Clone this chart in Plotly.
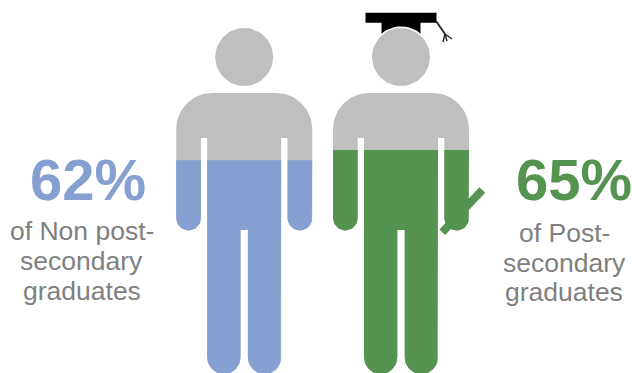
import numpy as np
import plotly.graph_objects as go

# Shares shown by the two pictograms
groups = ["Non post-secondary graduates", "Post-secondary graduates"]
shares = [62, 65]
caption_lines = [
    ["of Non post-", "secondary", "graduates"],
    ["of Post-", "secondary", "graduates"],
]
colors = ["#85A0D1", "#549350"]
text_gray = "#808080"
figure_gray = "#BFBFBF"

WIDTH, HEIGHT = 632, 373
PX_PER_PERCENT = 3.43          # one percent of figure height, head to feet
person_centers = [244.2, 401.0]
share_x = [88, 574]
caption_x = [81.5, 564]
caption_y = [[231, 261, 291], [233, 263, 292]]


def pct(py):
    """Convert a distance from the top of the canvas to the percent axis."""
    return (HEIGHT - np.asarray(py, dtype=float)) / PX_PER_PERCENT


def arc(cx, cy, r, start, stop, n=24):
    t = np.radians(np.linspace(start, stop, n))
    return np.column_stack([cx + r * np.cos(t), cy + r * np.sin(t)])


def body_outline(cx):
    """Torso, arms and legs as one closed contour (y pointing down)."""
    outer, arm_in, torso, leg_gap = 68, 43.3, 37, 3.7
    top, slot_top, arm_end, crotch, feet = 93, 138, 230.5, 230, 374
    shoulder = 36
    arm_r = (outer - arm_in) / 2
    leg_r = (torso - leg_gap) / 2
    parts = [
        arc(cx - outer + shoulder, top + shoulder, shoulder, 180, 270),
        arc(cx + outer - shoulder, top + shoulder, shoulder, 270, 360),
        arc(cx + outer - arm_r, arm_end - arm_r, arm_r, 0, 180),
        [[cx + arm_in, slot_top], [cx + torso, slot_top]],
        arc(cx + torso - leg_r, feet - leg_r, leg_r, 0, 180),
        [[cx + leg_gap, crotch], [cx - leg_gap, crotch]],
        arc(cx - torso + leg_r, feet - leg_r, leg_r, 0, 180),
        [[cx - torso, slot_top], [cx - arm_in, slot_top]],
        arc(cx - outer + arm_r, arm_end - arm_r, arm_r, 0, 180),
    ]
    return np.vstack(parts)


def clip_below(points, level):
    """Keep the part of a polygon whose y value is at or under level."""
    out = []
    for a, b in zip(points, np.roll(points, -1, axis=0)):
        a_in, b_in = a[1] <= level, b[1] <= level
        if a_in:
            out.append(a)
        if a_in != b_in:
            t = (level - a[1]) / (b[1] - a[1])
            out.append(a + t * (b - a))
    return np.array(out)


def polygon(points, color, line=None):
    pts = np.vstack([points, points[:1]])
    return go.Scatter(
        x=pts[:, 0], y=pts[:, 1], mode="lines", fill="toself", fillcolor=color,
        line=dict(color=line or color, width=1 if line else 0),
        hoverinfo="skip", showlegend=False,
    )


def to_axis(points):
    points = np.asarray(points, dtype=float)
    return np.column_stack([points[:, 0], pct(points[:, 1])])


def bar(x0, y0, x1, y1, width):
    """Rectangle of a given width around a straight segment."""
    d = np.array([x1 - x0, y1 - y0], dtype=float)
    n = np.array([-d[1], d[0]]) / np.hypot(*d) * width / 2
    a, b = np.array([x0, y0]), np.array([x1, y1])
    return np.array([a + n, b + n, b - n, a - n])


fig = go.Figure()

# Mortarboard sits behind the head of the second figure
hat_cx = person_centers[1]
board = [[hat_cx - 35.5, 12.7], [hat_cx + 35.5, 12.7], [hat_cx + 35.5, 22.7],
         [hat_cx + 19.5, 22.7], [hat_cx + 19.5, 34], [hat_cx - 19.5, 34],
         [hat_cx - 19.5, 22.7], [hat_cx - 35.5, 22.7]]
fig.add_trace(polygon(to_axis(board), "#000000"))
tassel = [
    [[hat_cx + 35, 21], [hat_cx + 44, 34]],
    [[hat_cx + 44, 34], [hat_cx + 42, 42]],
    [[hat_cx + 44, 34], [hat_cx + 46, 41]],
    [[hat_cx + 44, 34], [hat_cx + 51, 39]],
]
for n_seg, seg in enumerate(tassel):
    seg_axis = to_axis(seg)
    fig.add_trace(go.Scatter(x=seg_axis[:, 0], y=seg_axis[:, 1], mode="lines",
                             line=dict(color="#222222", width=1.8 if n_seg == 0 else 1.4),
                             hoverinfo="skip", showlegend=False))

for i, cx in enumerate(person_centers):
    head = arc(cx, 57, 29, 0, 360, 72)[:-1]
    if i == 1:
        halo = arc(cx, 57, 30.6, 0, 360, 72)[:-1]
        fig.add_trace(polygon(to_axis(halo), "#FFFFFF"))
    fig.add_trace(polygon(to_axis(head), figure_gray))

    body = to_axis(body_outline(cx))
    fig.add_trace(polygon(body, figure_gray))

    # The diploma in the hand of the second figure shows only below its level
    if i == 1:
        diploma = to_axis(bar(482.3, 190, 442.3, 232.3, 8))
        fig.add_trace(polygon(diploma, colors[i]))
    fig.add_trace(polygon(clip_below(body, shares[i]), colors[i]))

    fig.add_annotation(
        x=share_x[i], y=pct(179.5), text=f"<b>{shares[i]}%</b>", showarrow=False,
        font=dict(family="Liberation Sans", size=58, color=colors[i]),
        xanchor="center", yanchor="middle",
    )
    for line, py in zip(caption_lines[i], caption_y[i]):
        fig.add_annotation(
            x=caption_x[i], y=pct(py), text=line, showarrow=False,
            font=dict(family="Liberation Sans", size=26.5, color=text_gray),
            xanchor="center", yanchor="middle",
        )

fig.update_xaxes(range=[0, WIDTH], visible=False, fixedrange=True)
fig.update_yaxes(range=[0, HEIGHT / PX_PER_PERCENT], visible=False, fixedrange=True)
fig.update_layout(
    width=WIDTH, height=HEIGHT,
    margin=dict(l=0, r=0, t=0, b=0),
    paper_bgcolor="#FFFFFF", plot_bgcolor="#FFFFFF",
    showlegend=False, hovermode=False,
)
fig.write_html("out.html", config=dict(displayModeBar=False))
